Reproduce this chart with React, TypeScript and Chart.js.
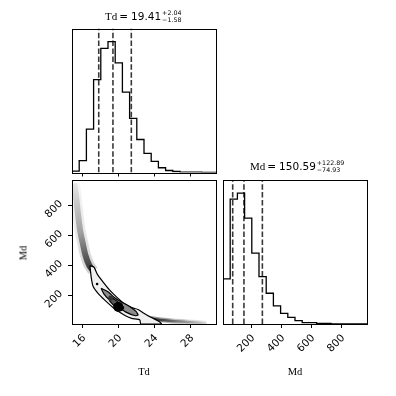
import React, { useEffect, useRef } from "react";
import { Chart, registerables } from "chart.js";

Chart.register(...registerables);

// ---- data ----
const TD_RANGE = [14.86, 30.86];
const MD_RANGE = [11, 971];
const TD_TICKS = [16, 20, 24, 28];
const MD_TICKS = [200, 400, 600, 800];

// 20-bin histograms (relative counts)
const TD_COUNTS = [13, 117, 430, 920, 1230, 1297, 1087, 797, 537, 327, 190, 110, 47, 20, 10, 4, 4, 4, 0, 0];
const MD_COUNTS = [450, 1247, 1307, 1057, 707, 473, 307, 180, 107, 67, 33, 13, 13, 7, 7, 0, 0, 0, 0, 0];

const TD_QUANTILES = [17.83, 19.41, 21.45];
const MD_QUANTILES = [75.66, 150.59, 273.48];

// ridge of the scatter cloud (upper branch and low tail)
const CLOUD_TD = [15.1, 15.3, 15.5, 15.75, 16.05, 16.35, 16.75, 17.2];
const CLOUD_MD = [950, 870, 760, 640, 550, 470, 405, 365];
const TAIL_TD = [22.6, 23.9, 25.7, 27.6, 29.8];
const TAIL_MD = [60, 45, 33, 25, 16];

// density contours
const OUTER_TD = [16.85, 17.3, 17.7, 18.3, 19.0, 19.8, 20.7, 21.5, 22.2, 22.8, 23.5, 24.0, 24.5, 24.8, 22.5, 22.4, 21.5, 20.8, 19.6, 18.5, 17.75, 17.2, 17.0, 16.85];
const OUTER_MD = [400, 390, 340, 292, 240, 192, 145, 120, 108, 85, 60, 45, 30, 11, 11, 38, 48, 66, 112, 170, 215, 262, 320, 400];
const MID_TD = [18.1, 18.86, 19.6, 20.3, 21.3, 22.0, 22.2, 21.9, 20.8, 19.8, 19.0, 18.4, 18.1];
const MID_MD = [249, 226, 186, 160, 126, 93, 71, 66, 92, 132, 172, 212, 249];
const INNER_TD = [19.0, 19.5, 20.2, 20.6, 20.3, 19.7, 19.0];
const INNER_MD = [198, 178, 148, 118, 100, 122, 168];
const PEAK_TD = [20.0, 19.15, 17.65];
const PEAK_MD = [125, 182, 278];

// ---- helpers ----
const zip = (xs: number[], ys: number[]) => xs.map((x, i) => ({ x, y: ys[i] }));

function histPoints(range: number[], counts: number[]) {
  const step = (range[1] - range[0]) / counts.length;
  const pts = [{ x: range[0], y: 0 }];
  counts.forEach((c, i) => pts.push({ x: range[0] + i * step, y: c }));
  pts.push({ x: range[1], y: 0 });
  return pts;
}

const framePlugin = {
  id: "frame",
  afterDraw(chart: any) {
    const { ctx, chartArea: a } = chart;
    ctx.save();
    ctx.strokeStyle = "#000";
    ctx.lineWidth = 1;
    const l = Math.round(a.left), t = Math.round(a.top), r = Math.round(a.right), b = Math.round(a.bottom);
    ctx.strokeRect(l + 0.5, t + 0.5, r - l, b - t);
    ctx.restore();
  },
};

const tickFont = { family: "'DejaVu Sans'", size: 10.5 };
const labelLen = (c: any) => String(c.tick ? c.tick.label : "").length;

function xAxis(range: number[], ticks: number[], labels: boolean, height: number) {
  return {
    type: "linear",
    min: range[0],
    max: range[1],
    afterBuildTicks: (s: any) => {
      s.ticks = ticks.map((v) => ({ value: v }));
    },
    afterFit: (s: any) => {
      s.height = height;
    },
    grid: { display: true, drawOnChartArea: false, drawTicks: true, tickLength: 4, color: "#000", lineWidth: 1 },
    border: { display: false },
    ticks: {
      display: labels,
      autoSkip: false,
      minRotation: 45,
      maxRotation: 45,
      font: tickFont,
      color: "#000",
      padding: 4,
      labelOffset: (c: any) => 3.2 * labelLen(c) + 2,
    },
  };
}

function histConfig(range: number[], ticks: number[], counts: number[], quants: number[], labels: boolean, padding: any, axisH: number): any {
  const yMax = Math.max(...counts) * 1.1;
  const qSets = quants.map((q) => ({
    data: [{ x: q, y: 0 }, { x: q, y: yMax }],
    showLine: true,
    borderColor: "rgba(0,0,0,0.78)",
    borderWidth: 1.6,
    borderDash: [5.5, 2.4],
    pointRadius: 0,
    order: 1,
  }));
  return {
    type: "scatter",
    data: {
      datasets: [
        {
          data: histPoints(range, counts),
          showLine: true,
          stepped: "before",
          borderColor: "#000",
          borderWidth: 1.3,
          pointRadius: 0,
          order: 2,
        },
        ...qSets,
      ],
    },
    options: {
      animation: false,
      responsive: false,
      layout: { padding },
      plugins: { legend: { display: false }, tooltip: { enabled: false }, title: { display: false } },
      scales: {
        x: xAxis(range, ticks, labels, axisH),
        y: { type: "linear", min: 0, max: yMax, display: false },
      },
    },
    plugins: [framePlugin],
  };
}

// a soft band along a ridge, shaded with a gradient running from the first to the last ridge point
function band(xs: number[], ys: number[], width: number, a0: number, a1: number, order: number) {
  return {
    data: zip(xs, ys),
    showLine: true,
    pointRadius: 0,
    borderCapStyle: "butt",
    borderJoinStyle: "round",
    tension: 0.3,
    clip: 0,
    borderWidth: width,
    borderColor: (c: any) => {
      const chart = c.chart;
      const sx = chart.scales && chart.scales.x;
      const sy = chart.scales && chart.scales.y;
      if (!sx || !sy || !chart.chartArea) return `rgba(0,0,0,${a0})`;
      const n = xs.length - 1;
      const g = chart.ctx.createLinearGradient(
        sx.getPixelForValue(xs[0]), sy.getPixelForValue(ys[0]),
        sx.getPixelForValue(xs[n]), sy.getPixelForValue(ys[n])
      );
      g.addColorStop(0, `rgba(0,0,0,${a0})`);
      g.addColorStop(0.55, `rgba(0,0,0,${(a0 + a1) / 2.6})`);
      g.addColorStop(1, `rgba(0,0,0,${a1})`);
      return g;
    },
    order,
  };
}

function polygon(xs: number[], ys: number[], fillColor: string, order: number) {
  return {
    data: zip(xs, ys),
    showLine: true,
    pointRadius: 0,
    fill: "shape",
    backgroundColor: fillColor,
    borderColor: "#000",
    borderWidth: 1.2,
    tension: 0.15,
    order,
  };
}

function cornerConfig(): any {
  return {
    type: "scatter",
    data: {
      datasets: [
        band(CLOUD_TD, CLOUD_MD, 11, 0.04, 0.18, 12),
        band(CLOUD_TD, CLOUD_MD, 6, 0.06, 0.75, 11),
        band(TAIL_TD, TAIL_MD, 5, 0.55, 0.05, 12),
        band(TAIL_TD, TAIL_MD, 2.5, 0.85, 0.1, 11),
        polygon(OUTER_TD, OUTER_MD, "#f0f0f0", 6),
        polygon(MID_TD, MID_MD, "#8c8c8c", 5),
        polygon(INNER_TD, INNER_MD, "#5a5a5a", 4),
        {
          data: zip(PEAK_TD, PEAK_MD),
          showLine: false,
          pointRadius: [5, 2.5, 1.3],
          pointBackgroundColor: ["#000", "#333", "#000"],
          pointBorderWidth: 0,
          order: 2,
        },
      ],
    },
    options: {
      animation: false,
      responsive: false,
      layout: { padding: { left: 28, right: 180, top: 180, bottom: 28 } },
      plugins: {
        legend: { display: false },
        tooltip: { enabled: false },
        title: { display: false },
        filler: { drawTime: "beforeDatasetDraw" },
      },
      scales: {
        x: xAxis(TD_RANGE, TD_TICKS, true, 44),
        y: {
          type: "linear",
          min: MD_RANGE[0],
          max: MD_RANGE[1],
          afterBuildTicks: (s: any) => {
            s.ticks = MD_TICKS.map((v) => ({ value: v }));
          },
          afterFit: (s: any) => {
            s.width = 44;
          },
          grid: { display: true, drawOnChartArea: false, drawTicks: true, tickLength: 4, color: "#000", lineWidth: 1 },
          border: { display: false },
          ticks: {
            autoSkip: false,
            minRotation: 45,
            maxRotation: 45,
            font: tickFont,
            color: "#000",
            padding: 7,
            labelOffset: (c: any) => -2.4 * labelLen(c) - 3.5,
          },
        },
      },
    },
    plugins: [framePlugin],
  };
}

const canvasStyle: React.CSSProperties = { position: "absolute", left: 0, top: 0, width: 396, height: 396 };
const serif = "'Liberation Serif', serif";
const sans = "'DejaVu Sans', sans-serif";

function Title({ name, value, plus, minus, left, top }: any) {
  return (
    <div style={{ position: "absolute", left, top, whiteSpace: "nowrap", lineHeight: 1, color: "#000", display: "flex", alignItems: "baseline" }}>
      <span style={{ fontFamily: serif, fontSize: 11 }}>{name}</span>
      <span style={{ fontFamily: sans, fontSize: 10.5, marginLeft: 2 }}>=</span>
      <span style={{ fontFamily: sans, fontSize: 10.5, marginLeft: 3 }}>{value}</span>
      <span style={{ display: "inline-block", fontFamily: sans, fontSize: 6.3, lineHeight: "7px", position: "relative", top: -5, marginLeft: 1 }}>
        <div>{plus}</div>
        <div>{minus}</div>
      </span>
    </div>
  );
}

export default function App() {
  const c1 = useRef<HTMLCanvasElement>(null);
  const c2 = useRef<HTMLCanvasElement>(null);
  const c3 = useRef<HTMLCanvasElement>(null);

  useEffect(() => {
    const charts = [
      new Chart(c1.current as HTMLCanvasElement, histConfig(TD_RANGE, TD_TICKS, TD_COUNTS, TD_QUANTILES, false, { left: 72, right: 180, top: 28.5, bottom: 215.5 }, 8)),
      new Chart(c2.current as HTMLCanvasElement, cornerConfig()),
      new Chart(c3.current as HTMLCanvasElement, histConfig(MD_RANGE, MD_TICKS, MD_COUNTS, MD_QUANTILES, true, { left: 223, right: 29, top: 180, bottom: 28 }, 44)),
    ];
    return () => charts.forEach((c) => c.destroy());
  }, []);

  return (
    <div style={{ position: "fixed", left: 0, top: 0, width: 396, height: 396, background: "#fff", overflow: "hidden" }}>
      <canvas ref={c1} width={396} height={396} style={canvasStyle} />
      <canvas ref={c2} width={396} height={396} style={canvasStyle} />
      <canvas ref={c3} width={396} height={396} style={canvasStyle} />
      <Title name="Td" value="19.41" plus="+2.04" minus="−1.58" left={105} top={11} />
      <Title name="Md" value="150.59" plus="+122.89" minus="−74.93" left={250} top={161} />
      <div style={{ position: "absolute", left: 144, top: 371, transform: "translate(-50%,-50%)", fontFamily: serif, fontSize: 10.5, color: "#000" }}>Td</div>
      <div style={{ position: "absolute", left: 295, top: 371, transform: "translate(-50%,-50%)", fontFamily: serif, fontSize: 10.5, color: "#000" }}>Md</div>
      <div style={{ position: "absolute", left: 22.5, top: 253, transform: "translate(-50%,-50%) rotate(-90deg)", fontFamily: serif, fontSize: 10.5, color: "#000" }}>Md</div>
    </div>
  );
}
